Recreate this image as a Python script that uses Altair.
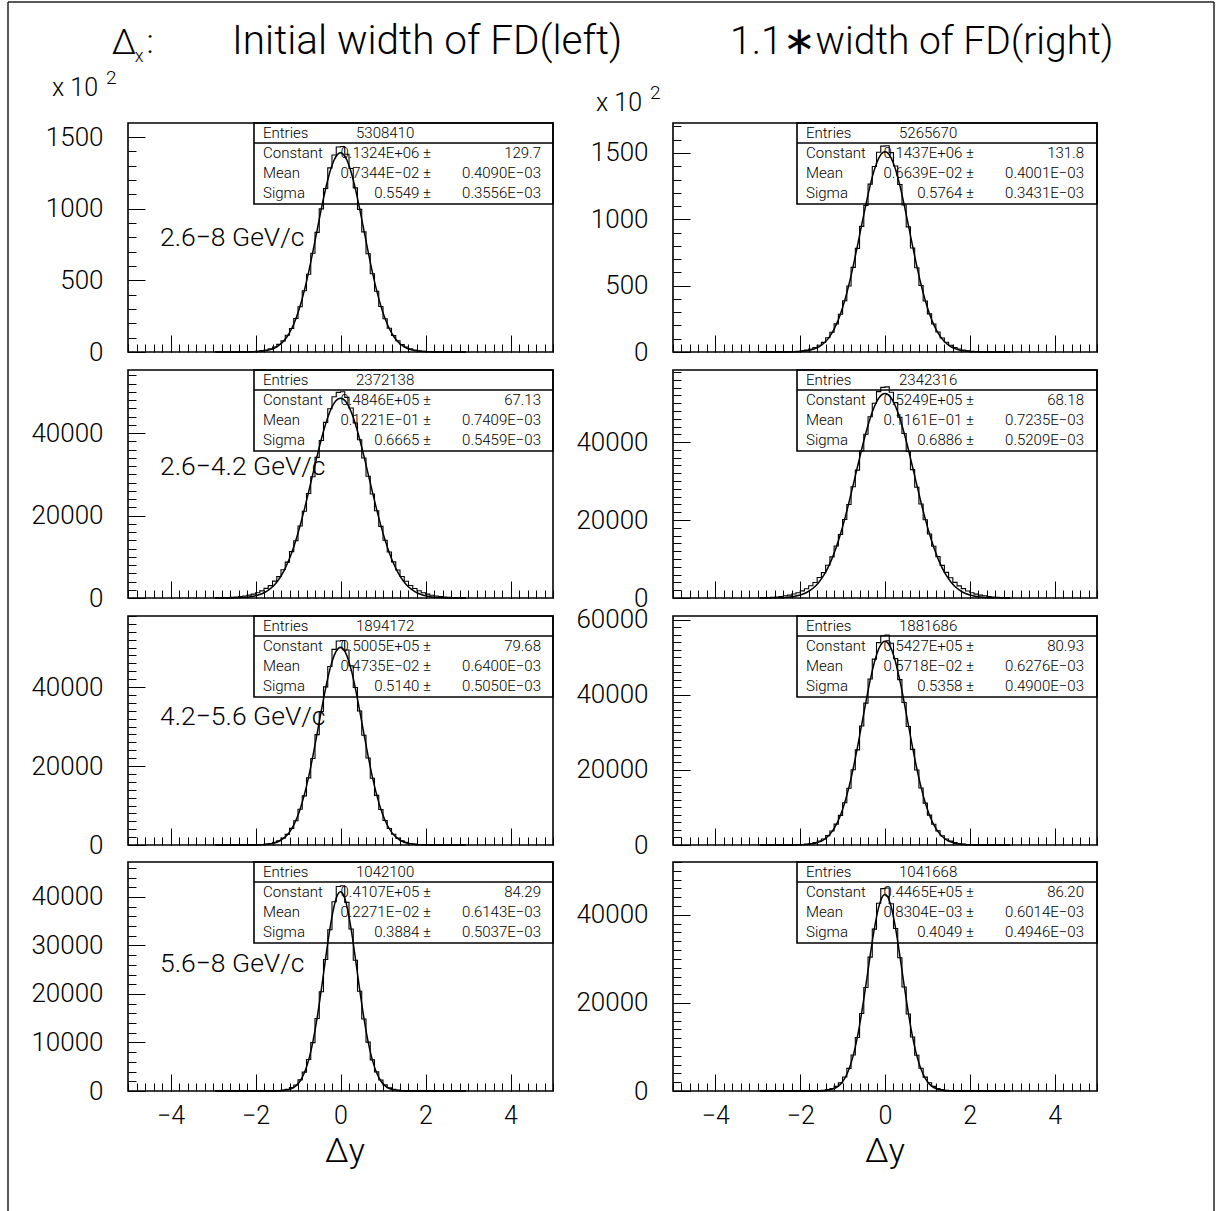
import altair as alt
import pandas as pd

# ---------------- data ----------------
BIN_CENTERS = [round(-2.95 + 0.1 * k, 2) for k in range(60)]
X_MAJOR = [-4, -2, 0, 2, 4]
X_MINOR = [round(-5 + 0.2 * k, 1) for k in range(51)]

HIST_L1_NEG = [3, 4, 9, 14, 24, 42, 68, 125, 190, 340, 540, 940, 1420, 2280, 3470, 5320, 7780, 11650, 16400, 23400,
               31600, 42700, 54300, 68900, 83500, 99900, 114100, 128500, 137500, 143100]
HIST_L1_POS = [143400, 138000, 128100, 114500, 99550, 83800, 68600, 54600, 42400, 31800, 23200, 16540, 11540, 7850,
               5260, 3510, 2250, 1440, 920, 550, 330, 200, 120, 70, 40, 25, 15, 8, 5, 3]
FIT_L1_NEG = [0, 0, 1, 2, 4, 10, 20, 40, 80, 150, 290, 540, 960, 1670, 2810, 4570, 7200, 10990, 16220, 23200,
              32110, 43010, 55750, 69990, 85050, 100050, 113920, 125590, 134010, 138430]
FIT_L1_POS = [138430, 134010, 125590, 113920, 100050, 85050, 69990, 55750, 43010, 32110, 23200, 16220, 10990, 7200,
              4570, 2810, 1670, 960, 540, 290, 150, 80, 40, 20, 10, 4, 2, 1, 0, 0]

HIST_R1_NEG = [5, 11, 17, 31, 48, 85, 135, 200, 360, 580, 950, 1470, 2290, 3350, 5130, 7260, 10700, 14900, 21200, 28500,
               38600, 49800, 63800, 78100, 94700, 110400, 126500, 139800, 150600, 155200]
HIST_R1_POS = [155500, 150300, 140200, 126200, 110800, 94300, 78400, 63500, 50100, 38400, 28700, 21050, 15100, 10600,
               7340, 5080, 3390, 2250, 1500, 930, 590, 350, 210, 140, 80, 50, 30, 18, 10, 6]
FIT_R1_NEG = [0, 1, 2, 4, 9, 20, 40, 70, 140, 270, 490, 880, 1500, 2510, 4060, 6380, 9720, 14380, 20640, 28730,
              38820, 50910, 64760, 79960, 95780, 111330, 125580, 137440, 145970, 150430]
FIT_R1_POS = [150430, 145970, 137440, 125580, 111330, 95780, 79960, 64760, 50910, 38820, 28730, 20640, 14380, 9720,
              6380, 4060, 2510, 1500, 880, 490, 270, 140, 70, 40, 20, 9, 4, 2, 1, 0]

HIST_L2_NEG = [25, 33, 62, 95, 145, 230, 360, 470, 690, 930, 1290, 1720, 2340, 3010, 4090, 5180, 6850, 8700, 11250,
               13900, 17450, 21050, 25350, 29400, 34100, 38200, 42600, 45900, 48800, 49880]
HIST_L2_POS = [50010, 48670, 46070, 42430, 38390, 33950, 29520, 25220, 21170, 17370, 14010, 11160, 8770, 6790, 5230,
               4050, 3050, 2310, 1750, 1270, 950, 680, 480, 350, 240, 140, 100, 60, 35, 24]
FIT_L2_NEG = [3, 5, 10, 20, 30, 60, 100, 160, 270, 430, 670, 1030, 1540, 2260, 3240, 4550, 6230, 8350, 10940, 14010,
              17550, 21490, 25730, 30120, 34470, 38580, 42220, 45170, 47250, 48320]
FIT_L2_POS = [48320, 47250, 45170, 42220, 38580, 34470, 30120, 25730, 21490, 17550, 14010, 10940, 8350, 6230, 4550,
              3240, 2260, 1540, 1030, 670, 430, 270, 160, 100, 60, 30, 20, 10, 5, 3]

HIST_R2_NEG = [42, 68, 112, 155, 255, 350, 570, 740, 1010, 1340, 1830, 2380, 3150, 3970, 5250, 6520, 8420, 10550,
               13350, 16300, 20150, 24000, 28550, 32800, 37750, 42000, 46500, 49950, 52950, 54050]
HIST_R2_POS = [54180, 52800, 50120, 46360, 42190, 37590, 32950, 28430, 24130, 20070, 16410, 13270, 10610, 8370, 6580,
               5210, 4010, 3120, 2410, 1810, 1360, 1000, 750, 560, 360, 250, 160, 110, 70, 40]
FIT_R2_NEG = [5, 10, 18, 32, 55, 90, 160, 250, 400, 620, 950, 1420, 2080, 2970, 4170, 5720, 7680, 10100, 13010, 16410,
              20270, 24500, 29010, 33620, 38160, 42400, 46130, 49140, 51260, 52350]
FIT_R2_POS = [52350, 51260, 49140, 46130, 42400, 38160, 33620, 29010, 24500, 20270, 16410, 13010, 10100, 7680, 5720,
              4170, 2970, 2080, 1420, 950, 620, 400, 250, 160, 90, 55, 32, 18, 10, 5]

HIST_L3_NEG = [0, 0, 1, 2, 4, 5, 10, 14, 26, 44, 82, 135, 235, 380, 670, 1060, 1750, 2700, 4220, 6150, 9050, 12450,
               17000, 21900, 27950, 33800, 40050, 45200, 49550, 51650]
HIST_L3_POS = [51800, 49400, 45360, 39890, 33950, 27810, 22050, 16910, 12560, 8980, 6210, 4180, 2730, 1730, 1080, 660,
               390, 230, 140, 80, 45, 25, 15, 10, 6, 4, 2, 1, 1, 0]
FIT_L3_NEG = [0, 0, 0, 0, 0, 1, 2, 4, 8, 20, 40, 80, 150, 290, 530, 940, 1590, 2600, 4100, 6210, 9070, 12750, 17260,
              22500, 28230, 34120, 39690, 44470, 47960, 49810]
FIT_L3_POS = [49810, 47960, 44470, 39690, 34120, 28230, 22500, 17260, 12750, 9070, 6210, 4100, 2600, 1590, 940, 530,
              290, 150, 80, 40, 20, 8, 4, 2, 1, 0, 0, 0, 0, 0]

HIST_R3_NEG = [0, 1, 1, 3, 5, 8, 15, 23, 43, 78, 132, 235, 395, 620, 1050, 1580, 2490, 3720, 5560, 7900, 11250, 15100,
               20050, 25350, 31700, 37800, 44200, 49500, 53900, 55750]
HIST_R3_POS = [55920, 53760, 49640, 44060, 37950, 31570, 25480, 19960, 15190, 11160, 7950, 5530, 3750, 2470, 1600,
               1040, 630, 390, 240, 130, 80, 42, 24, 14, 8, 5, 3, 2, 1, 0]
FIT_R3_NEG = [0, 0, 0, 0, 1, 2, 4, 8, 17, 36, 70, 140, 260, 470, 830, 1390, 2270, 3570, 5420, 7950, 11270, 15420,
              20370, 26000, 32050, 38140, 43840, 48670, 52190, 54030]
FIT_R3_POS = [54030, 52190, 48670, 43840, 38140, 32050, 26000, 20370, 15420, 11270, 7950, 5420, 3570, 2270, 1390, 830,
              470, 260, 140, 70, 36, 17, 8, 4, 2, 1, 0, 0, 0, 0]

HIST_L4_NEG = [0, 0, 0, 0, 0, 0, 0, 0, 0, 0, 1, 2, 6, 14, 36, 82, 182, 345, 690, 1250, 2290, 3900, 6480, 9980, 14950,
               20450, 27100, 33250, 39000, 42150]
HIST_L4_POS = [42300, 38880, 33390, 26960, 20570, 14840, 10070, 6420, 3940, 2270, 1270, 680, 350, 180, 84, 35, 15, 6,
               3, 1, 0, 0, 0, 0, 0, 0, 0, 0, 0, 0]
FIT_L4_NEG = [0, 0, 0, 0, 0, 0, 0, 0, 0, 0, 0, 0, 2, 5, 14, 40, 100, 230, 510, 1060, 2060, 3750, 6360, 10120, 15070,
              20990, 27370, 33390, 38120, 40730]
FIT_L4_POS = [40730, 38120, 33390, 27370, 20990, 15070, 10120, 6360, 3750, 2060, 1060, 510, 230, 100, 40, 14, 5, 2, 0,
              0, 0, 0, 0, 0, 0, 0, 0, 0, 0, 0]

HIST_R4_NEG = [0, 0, 0, 0, 0, 0, 0, 0, 0, 0, 2, 5, 13, 32, 76, 148, 315, 560, 1060, 1840, 3170, 5130, 8180, 12150,
               17600, 23500, 30400, 36750, 42650, 45950]
HIST_R4_POS = [46080, 42520, 36900, 30270, 23600, 17480, 12250, 8110, 5180, 3140, 1860, 1050, 570, 310, 150, 75, 33,
               12, 5, 2, 0, 0, 0, 0, 0, 0, 0, 0, 0, 0]
FIT_R4_NEG = [0, 0, 0, 0, 0, 0, 0, 0, 0, 0, 0, 1, 4, 11, 30, 73, 170, 380, 790, 1550, 2850, 4930, 8030, 12310, 17750,
              24080, 30730, 36900, 41690, 44310]
FIT_R4_POS = [44310, 41690, 36900, 30730, 24080, 17750, 12310, 8030, 4930, 2850, 1550, 790, 380, 170, 73, 30, 11, 4,
              1, 0, 0, 0, 0, 0, 0, 0, 0, 0, 0, 0]

HISTS = {
    "L1": HIST_L1_NEG + HIST_L1_POS, "R1": HIST_R1_NEG + HIST_R1_POS,
    "L2": HIST_L2_NEG + HIST_L2_POS, "R2": HIST_R2_NEG + HIST_R2_POS,
    "L3": HIST_L3_NEG + HIST_L3_POS, "R3": HIST_R3_NEG + HIST_R3_POS,
    "L4": HIST_L4_NEG + HIST_L4_POS, "R4": HIST_R4_NEG + HIST_R4_POS,
}
FITS = {
    "L1": FIT_L1_NEG + FIT_L1_POS, "R1": FIT_R1_NEG + FIT_R1_POS,
    "L2": FIT_L2_NEG + FIT_L2_POS, "R2": FIT_R2_NEG + FIT_R2_POS,
    "L3": FIT_L3_NEG + FIT_L3_POS, "R3": FIT_R3_NEG + FIT_R3_POS,
    "L4": FIT_L4_NEG + FIT_L4_POS, "R4": FIT_R4_NEG + FIT_R4_POS,
}

Y_MAX = {"L1": 159800, "R1": 172600, "L2": 55300, "R2": 58500,
         "L3": 58000, "R3": 61000, "L4": 47200, "R4": 52000}
Y_LABELS = {"L1": [0, 50000, 100000, 150000], "R1": [0, 50000, 100000, 150000],
            "L2": [0, 20000, 40000], "R2": [0, 20000, 40000],
            "L3": [0, 20000, 40000], "R3": [0, 20000, 40000, 60000],
            "L4": [0, 10000, 20000, 30000, 40000], "R4": [0, 20000, 40000]}
Y_MINOR_STEP = {"L1": 10000, "R1": 10000, "L2": 2000, "R2": 2000,
                "L3": 2000, "R3": 2000, "L4": 2000, "R4": 2000}
SCALED_E2 = {"L1": True, "R1": True}

STATS = {
    "L1": ["5308410", "0.1324E+06 ±", "129.7", "0.7344E−02 ±", "0.4090E−03", "0.5549 ±", "0.3556E−03"],
    "R1": ["5265670", "0.1437E+06 ±", "131.8", "0.6639E−02 ±", "0.4001E−03", "0.5764 ±", "0.3431E−03"],
    "L2": ["2372138", "0.4846E+05 ±", "67.13", "0.1221E−01 ±", "0.7409E−03", "0.6665 ±", "0.5459E−03"],
    "R2": ["2342316", "0.5249E+05 ±", "68.18", "0.1161E−01 ±", "0.7235E−03", "0.6886 ±", "0.5209E−03"],
    "L3": ["1894172", "0.5005E+05 ±", "79.68", "0.4735E−02 ±", "0.6400E−03", "0.5140 ±", "0.5050E−03"],
    "R3": ["1881686", "0.5427E+05 ±", "80.93", "0.5718E−02 ±", "0.6276E−03", "0.5358 ±", "0.4900E−03"],
    "L4": ["1042100", "0.4107E+05 ±", "84.29", "0.2271E−02 ±", "0.6143E−03", "0.3884 ±", "0.5037E−03"],
    "R4": ["1041668", "0.4465E+05 ±", "86.20", "0.8304E−03 ±", "0.6014E−03", "0.4049 ±", "0.4946E−03"],
}
STAT_NAMES = ["Entries", "Constant", "Mean", "Sigma"]
RANGE_LABELS = ["2.6−8 GeV/c", "2.6−4.2 GeV/c", "4.2−5.6 GeV/c", "5.6−8 GeV/c"]
TITLE_LEFT = "Initial width of FD(left)"
TITLE_RIGHT = "1.1∗width of FD(right)"
X_TITLE = "Δy"

# ---------------- layout (pixels inside the page, offset by the padding) ----------------
FONT = "Roboto"
FW = 300
VIEW_W, VIEW_H = 1206, 1209
COL_X = [(120, 545), (665, 1089)]
ROW_Y = [(121, 350), (368, 596), (614, 843), (860, 1089)]
BOX_DX = [126, 124]
BOX_H = 81
MAJ, MIN = 17, 8

layers_frames, layers_curves = [], []
left_txt, right_txt, center_txt = [], [], []
boxes = []

for r in range(4):
    for c in range(2):
        key = ("L" if c == 0 else "R") + str(r + 1)
        x0, x1 = COL_X[c]
        yt, yb = ROW_Y[r]
        xs = alt.Scale(domain=[-5, 5], range=[x0, x1], nice=False, zero=False)
        ys = alt.Scale(domain=[0, Y_MAX[key]], range=[yb, yt], nice=False, zero=False)
        ymin_vals = list(range(0, Y_MAX[key] + 1, Y_MINOR_STEP[key]))
        common = dict(domain=False, grid=False, title=None, tickColor="black", tickWidth=1,
                      labelFont=FONT, labelFontWeight=FW, labelColor="black",
                      labelFlush=False, labelOverlap=False)
        ax_x_major = alt.Axis(orient="bottom", offset=(yb - MAJ) - VIEW_H, tickSize=MAJ, values=X_MAJOR,
                              labels=(r == 3), labelPadding=12, labelFontSize=25, format="d", **common)
        ax_x_minor = alt.Axis(orient="bottom", offset=(yb - MIN) - VIEW_H, tickSize=MIN, values=X_MINOR,
                              labels=False, **common)
        if SCALED_E2.get(key):
            ax_y_major = alt.Axis(orient="left", offset=-(x0 + MAJ), tickSize=MAJ, values=Y_LABELS[key],
                                  labelPadding=25, labelFontSize=26,
                                  labelExpr="format(datum.value / 100, 'd')", **common)
        else:
            ax_y_major = alt.Axis(orient="left", offset=-(x0 + MAJ), tickSize=MAJ, values=Y_LABELS[key],
                                  labelPadding=25, labelFontSize=26, format="d", **common)
        ax_y_minor = alt.Axis(orient="left", offset=-(x0 + MIN), tickSize=MIN, values=ymin_vals,
                              labels=False, **common)

        frame_df = pd.DataFrame({"xa": [-5], "xb": [5], "ya": [0], "yb": [Y_MAX[key]]})
        frame = alt.Chart(frame_df).mark_rect(fillOpacity=0, stroke="black", strokeWidth=1.6).encode(
            x=alt.X("xa:Q", scale=xs, axis=ax_x_major), x2="xb:Q",
            y=alt.Y("ya:Q", scale=ys, axis=ax_y_major), y2="yb:Q")
        layers_frames.append(frame)

        df = pd.DataFrame({"x": BIN_CENTERS, "h": HISTS[key], "f": FITS[key]})
        hist = alt.Chart(df).mark_line(interpolate="step", color="black", strokeWidth=1.1).encode(
            x=alt.X("x:Q", scale=xs, axis=ax_x_minor), y=alt.Y("h:Q", scale=ys, axis=ax_y_minor))
        fit = alt.Chart(df).mark_line(interpolate="natural", color="black", strokeWidth=1.5).encode(
            x=alt.X("x:Q", scale=xs, axis=None), y=alt.Y("f:Q", scale=ys, axis=None))
        layers_curves += [hist, fit]

        # statistics box
        bx0 = x0 + BOX_DX[c]
        boxes.append([bx0, x1, yt, yt + BOX_H, yt + 20])
        s = STATS[key]
        for i, nm in enumerate(STAT_NAMES):
            left_txt.append([bx0 + 9, yt + 10 + 20 * i, nm, 15])
        left_txt.append([bx0 + 102, yt + 10, s[0], 15])
        for i in range(3):
            right_txt.append([bx0 + 177, yt + 30 + 20 * i, s[1 + 2 * i], 15])
            right_txt.append([bx0 + 287, yt + 30 + 20 * i, s[2 + 2 * i], 15])

# annotations
left_txt.append([224, 40, TITLE_LEFT, 40.5])
left_txt.append([722, 40, TITLE_RIGHT, 39])
center_txt.append([116, 41, "Δ", 35])
center_txt.append([131, 55, "x", 18])
center_txt.append([142, 41, ":", 34])
left_txt.append([44, 86, "x 10", 25])
left_txt.append([98, 76, "2", 19])
left_txt.append([588, 101, "x 10", 25])
left_txt.append([642, 91, "2", 19])
for r, lab in enumerate(RANGE_LABELS):
    left_txt.append([152, [236, 465, 715, 962][r], lab, 26.5])
center_txt.append([337, 1150, X_TITLE, 34])
center_txt.append([877, 1150, X_TITLE, 34])


def text_layer(rows, align):
    tdf = pd.DataFrame(rows, columns=["px", "py", "txt", "fs"])
    return alt.Chart(tdf).mark_text(align=align, baseline="middle", font=FONT, fontWeight=FW,
                                    color="black").encode(
        x=alt.X("px:Q", scale=None, axis=None), y=alt.Y("py:Q", scale=None, axis=None),
        text="txt:N", size=alt.Size("fs:Q", scale=None, legend=None))


box_df = pd.DataFrame(boxes, columns=["bx0", "bx1", "by0", "by1", "sep"])
box_layer = alt.Chart(box_df).mark_rect(fillOpacity=0, stroke="black", strokeWidth=1.6).encode(
    x=alt.X("bx0:Q", scale=None, axis=None), x2="bx1:Q",
    y=alt.Y("by0:Q", scale=None, axis=None), y2="by1:Q")
sep_layer = alt.Chart(box_df).mark_rule(color="black", strokeWidth=1.6).encode(
    x=alt.X("bx0:Q", scale=None, axis=None), x2="bx1:Q",
    y=alt.Y("sep:Q", scale=None, axis=None))

# outer page frame: left, top and right edges (the bottom edge lies below the page)
outer_df = pd.DataFrame({"ox": [0, 0, VIEW_W], "ox2": [0, VIEW_W, VIEW_W],
                         "oy": [0, 0, 0], "oy2": [VIEW_H + 5, 0, VIEW_H + 5]})
outer_layer = alt.Chart(outer_df).mark_rule(color="#222222", strokeWidth=1.5).encode(
    x=alt.X("ox:Q", scale=None, axis=None), x2="ox2:Q",
    y=alt.Y("oy:Q", scale=None, axis=None), y2="oy2:Q")

all_layers = [outer_layer] + layers_frames + [box_layer, sep_layer,
                                              text_layer(left_txt, "left"), text_layer(right_txt, "right"),
                                              text_layer(center_txt, "center")] + layers_curves

chart = alt.layer(*all_layers).resolve_scale(x="independent", y="independent").properties(
    width=VIEW_W, height=VIEW_H, padding={"left": 8, "top": 2, "right": 5, "bottom": 0},
    autosize=alt.AutoSizeParams(type="none"), background="white"
).configure_view(stroke=None)

chart.save("out.html", embed_options={"renderer": "svg", "actions": False})
